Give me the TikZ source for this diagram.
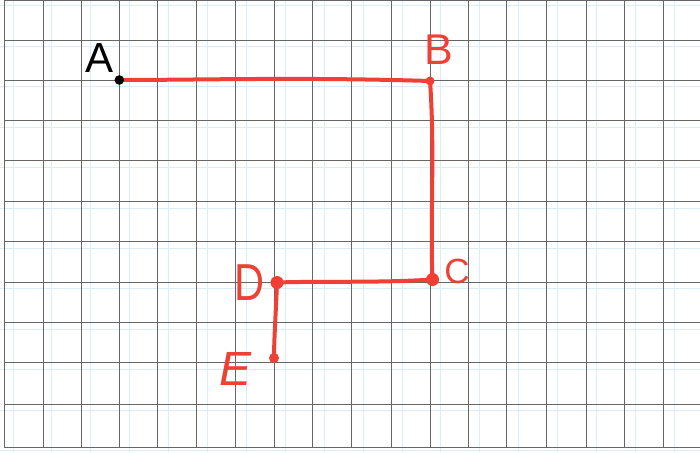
\documentclass[tikz,border=0pt]{standalone}
\usepackage{fontspec}
\setmainfont{Liberation Sans}
\definecolor{penred}{HTML}{EE4035}
\definecolor{griddark}{HTML}{666666}
\definecolor{gridlight}{HTML}{D9EEF8}
\tikzset{
  darkline/.style={draw=griddark, line width=1pt},
  lightline/.style={draw=gridlight, line width=1pt},
  penline/.style={draw=penred, line width=4pt, line cap=round, line join=round},
  redlabel/.style={text=penred, inner sep=0pt},
  blacklabel/.style={text=black, inner sep=0pt}
}
\begin{document}
\begin{tikzpicture}[x=1pt,y=-1pt]
\useasboundingbox (0,0) rectangle (700,452);
\fill[white] (0,0) rectangle (700,452);
% light grid
\foreach \k in {0,...,17} {\draw[lightline] ({13+38.9*\k},0) -- ({13+38.9*\k},452);}
\foreach \k in {0,...,11} {\draw[lightline] (0,{6+40.4*\k}) -- (700,{6+40.4*\k});}
% dark grid
\foreach \xx in {4.7,43.7,81.7,119.3,157,196,235,274,312,351.7,391.7,430.5,468.5,506.7,546.3,586,624,663.7}
  {\draw[darkline] (\xx,0) -- (\xx,447.7);}
\foreach \yy in {0.6,40.5,80,120,160.5,201.5,241.5,282.3,322.3,362.3,404,447.7}
  {\draw[darkline] (4.7,\yy) -- (700,\yy);}
% points
\coordinate (A) at (119.3,80);
\coordinate (B) at (430,81);
\coordinate (C) at (432.5,279.5);
\coordinate (D) at (277,282.5);
\coordinate (E) at (274,358);
% pen path
\draw[penline] (A) .. controls (200,80) and (300,77) .. (B);
\draw[penline] (B) .. controls (435,150) and (430,220) .. (C);
\draw[penline] (C) .. controls (380,283) and (320,281) .. (D);
\draw[penline] (D) .. controls (276,310) and (274,340) .. (E);
% dots
\fill[black] (A) circle (4.8pt);
\fill[penred] (B) circle (4.5pt);
\fill[penred] (C) circle (6.5pt);
\fill[penred] (D) circle (6.5pt);
\fill[penred] (E) circle (5pt);
% labels
\node[blacklabel, font=\fontsize{42}{42}\selectfont] (lA) at (100,58) {A};
\node[redlabel, font=\fontsize{43}{43}\selectfont] (lB) at (438.5,50) {B};
\node[redlabel, font=\fontsize{35}{35}\selectfont] (lC) at (457,271.5) {C};
\node[redlabel, font=\fontsize{52}{52}\selectfont, xscale=0.8] (lD) at (250,283) {D};
\node[redlabel, font=\fontsize{48}{48}\selectfont\itshape] (lE) at (236,369) {E};
\end{tikzpicture}
\end{document}
